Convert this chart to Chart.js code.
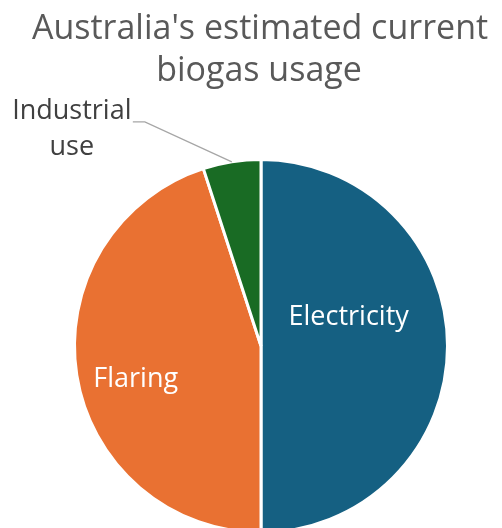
<!DOCTYPE html>
<html>
<head>
<meta charset="utf-8">
<script src="https://cdn.jsdelivr.net/npm/chart.js@4"></script>
<style>
html,body{margin:0;padding:0;overflow:hidden;background:#fff;}
canvas{display:block;}
</style>
</head>
<body>
<canvas id="c" width="502" height="560"></canvas>
<script>
const categories = ["Electricity", "Flaring", "Industrial use"];
const shares = [50, 45, 5];
const sliceColors = ["#156082", "#E97132", "#196B24"];
const titleLines = ["Australia's estimated current", "biogas usage"];

const FONT = "'Open Sans', Roboto, sans-serif";

const titlePlugin = {
  id: 'customTitle',
  afterDraw(chart) {
    const ctx = chart.ctx;
    ctx.save();
    ctx.fillStyle = '#595959';
    ctx.font = "34px " + FONT;
    ctx.textAlign = 'center';
    ctx.textBaseline = 'alphabetic';
    ctx.fillText(titleLines[0], 260, 39);
    ctx.fillText(titleLines[1], 259, 81);
    ctx.restore();
  }
};

const labelPlugin = {
  id: 'sliceLabels',
  afterDatasetsDraw(chart) {
    const ctx = chart.ctx;
    const meta = chart.getDatasetMeta(0);
    ctx.save();
    ctx.font = "27px " + FONT;
    ctx.textAlign = 'center';
    ctx.textBaseline = 'middle';
    meta.data.forEach((arc, i) => {
      const mid = (arc.startAngle + arc.endAngle) / 2;
      const cx = arc.x, cy = arc.y, r = arc.outerRadius;
      if (i === 0) {
        ctx.fillStyle = '#ffffff';
        ctx.fillText(categories[i], cx + Math.cos(mid) * r * 0.47, cy + Math.sin(mid) * r * 0.47 - 29);
      } else if (i === 1) {
        ctx.fillStyle = '#ffffff';
        ctx.fillText(categories[i], cx + Math.cos(mid) * r * 0.68, cy + Math.sin(mid) * r * 0.68 + 13);
      } else {
        // outside label with leader line
        const ex = cx + Math.cos(mid) * r, ey = cy + Math.sin(mid) * r;
        ctx.strokeStyle = '#a6a6a6';
        ctx.lineWidth = 1.3;
        ctx.beginPath();
        ctx.moveTo(ex, ey);
        ctx.lineTo(ex - 87, ey - 40);
        ctx.lineTo(ex - 99, ey - 40);
        ctx.stroke();
        ctx.fillStyle = '#404040';
        const words = categories[i].split(' ');
        ctx.fillText(words[0], ex - 160, ey - 50);
        ctx.fillText(words[1], ex - 160, ey - 14);
      }
    });
    ctx.restore();
  }
};

new Chart(document.getElementById('c'), {
  type: 'pie',
  data: {
    labels: categories,
    datasets: [{
      data: shares,
      backgroundColor: sliceColors,
      borderColor: '#ffffff',
      borderWidth: 3
    }]
  },
  options: {
    responsive: false,
    animation: false,
    layout: { padding: { top: 158, bottom: 26, left: 73, right: 53 } },
    plugins: {
      legend: { display: false },
      tooltip: { enabled: false },
      title: { display: false }
    }
  },
  plugins: [titlePlugin, labelPlugin]
});
</script>
</body>
</html>
